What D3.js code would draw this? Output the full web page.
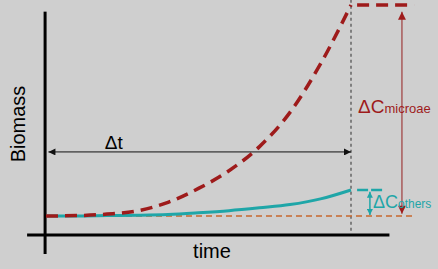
<!DOCTYPE html>
<html>
<head>
<meta charset="utf-8">
<script src="https://cdnjs.cloudflare.com/ajax/libs/d3/7.8.5/d3.min.js"></script>
<style>
  html, body { margin: 0; padding: 0; background: #cfcfcf; }
  svg { display: block; font-family: "Liberation Sans", Arial, sans-serif; }
</style>
</head>
<body>
<div id="chart"></div>
<script>
// time steps and biomass curves (arbitrary units, baseline = 1)
const times = [0, 1, 2, 3, 4, 5, 6, 7, 8, 9, 10];
const microalgae = [1.0, 1.02, 1.1, 1.27, 1.72, 2.45, 3.38, 4.65, 6.45, 9.0, 12.1];
const others = [1.0, 1.0, 1.02, 1.04, 1.08, 1.17, 1.28, 1.43, 1.6, 1.9, 2.37];
const labels = {y: 'Biomass', x: 'time', dt: '\u0394t', dc: '\u0394C', micro: 'microae', oth: 'others'};

const width = 438, height = 269;
const red = '#9e1b1b', teal = '#1fa6a8', orange = '#c8682e';

const svg = d3.select('#chart').append('svg')
  .attr('width', width)
  .attr('height', height);

svg.append('rect').attr('width', width).attr('height', height).attr('fill', '#cfcfcf');

const defs = svg.append('defs');

const x = d3.scaleLinear().domain([0, 10]).range([46, 351]);
const y = d3.scaleLinear().domain([0, 12.1]).range([235, 5]);

// arrow heads
function marker(id, color, w, h) {
  defs.append('marker')
    .attr('id', id)
    .attr('viewBox', '0 0 10 10')
    .attr('refX', 10).attr('refY', 5)
    .attr('markerUnits', 'userSpaceOnUse')
    .attr('markerWidth', w).attr('markerHeight', h)
    .attr('orient', 'auto-start-reverse')
    .append('path')
    .attr('d', 'M0,0 L10,5 L0,10 Z')
    .attr('fill', color);
}
marker('ablack', '#111', 9, 7);
marker('ared', red, 9, 8);
marker('ateal', teal, 7, 6);

// axes
svg.append('line')
  .attr('x1', x(-0.03)).attr('x2', x(-0.03))
  .attr('y1', y(11.75)).attr('y2', y(-1.0))
  .attr('stroke', '#000').attr('stroke-width', 3);
svg.append('line')
  .attr('x1', x(-0.62)).attr('x2', x(11.26))
  .attr('y1', y(0)).attr('y2', y(0))
  .attr('stroke', '#000').attr('stroke-width', 3);

// dotted reference line at end of the period
svg.append('line')
  .attr('x1', x(10)).attr('x2', x(10))
  .attr('y1', y(12.37)).attr('y2', y(0.16))
  .attr('stroke', '#666').attr('stroke-width', 1.5)
  .attr('stroke-dasharray', '3,3');

// baseline
svg.append('line')
  .attr('x1', x(0)).attr('x2', x(12.07))
  .attr('y1', y(1)).attr('y2', y(1))
  .attr('stroke', orange).attr('stroke-width', 1.6)
  .attr('stroke-dasharray', '6,4');

const line = d3.line()
  .x((d, i) => x(times[i]))
  .y(d => y(d))
  .curve(d3.curveMonotoneX);

svg.append('path')
  .attr('d', line(others))
  .attr('fill', 'none')
  .attr('stroke', teal).attr('stroke-width', 3);

svg.append('path')
  .attr('d', line(microalgae))
  .attr('fill', 'none')
  .attr('stroke', red).attr('stroke-width', 3.5)
  .attr('stroke-dasharray', '12,7');

// level lines at the end
const redEnd = microalgae[microalgae.length - 1];
const tealEnd = others[others.length - 1];
svg.append('line')
  .attr('x1', x(10.2)).attr('x2', x(12.07))
  .attr('y1', y(redEnd)).attr('y2', y(redEnd))
  .attr('stroke', red).attr('stroke-width', 3.5)
  .attr('stroke-dasharray', '12,7');
svg.append('line')
  .attr('x1', x(10.2)).attr('x2', x(11.08))
  .attr('y1', y(tealEnd)).attr('y2', y(tealEnd))
  .attr('stroke', teal).attr('stroke-width', 2.5)
  .attr('stroke-dasharray', '11,3');

// delta t arrow
svg.append('line')
  .attr('x1', x(0.08)).attr('x2', x(10))
  .attr('y1', y(4.37)).attr('y2', y(4.37))
  .attr('stroke', '#111').attr('stroke-width', 1)
  .attr('marker-start', 'url(#ablack)')
  .attr('marker-end', 'url(#ablack)');
svg.append('text')
  .attr('x', x(1.93)).attr('y', y(4.5))
  .attr('font-size', 19).attr('fill', '#000')
  .text(labels.dt);

// delta C microalgae arrow
svg.append('line')
  .attr('x1', x(11.67)).attr('x2', x(11.67))
  .attr('y1', y(1.12)).attr('y2', y(11.74))
  .attr('stroke', '#a85a5a').attr('stroke-width', 1.5)
  .attr('marker-start', 'url(#ared)')
  .attr('marker-end', 'url(#ared)');
const tm = svg.append('text')
  .attr('x', x(10.23)).attr('y', y(6.42))
  .attr('fill', red);
tm.append('tspan').attr('font-size', 19).text(labels.dc);
tm.append('tspan').attr('font-size', 13).text(labels.micro);

// delta C others arrow
svg.append('line')
  .attr('x1', x(10.62)).attr('x2', x(10.62))
  .attr('y1', y(1.05)).attr('y2', y(2.28))
  .attr('stroke', teal).attr('stroke-width', 1.5)
  .attr('marker-start', 'url(#ateal)')
  .attr('marker-end', 'url(#ateal)');
const to = svg.append('text')
  .attr('x', x(10.72)).attr('y', y(1.44))
  .attr('fill', teal);
to.append('tspan').attr('font-size', 18).text(labels.dc);
to.append('tspan').attr('font-size', 12).text(labels.oth);

// axis titles
svg.append('text')
  .attr('transform', 'translate(25,124) rotate(-90)')
  .attr('text-anchor', 'middle')
  .attr('font-size', 20).attr('fill', '#000')
  .text(labels.y);
svg.append('text')
  .attr('x', 212).attr('y', 258)
  .attr('text-anchor', 'middle')
  .attr('font-size', 20).attr('fill', '#000')
  .text(labels.x);
</script>
</body>
</html>
